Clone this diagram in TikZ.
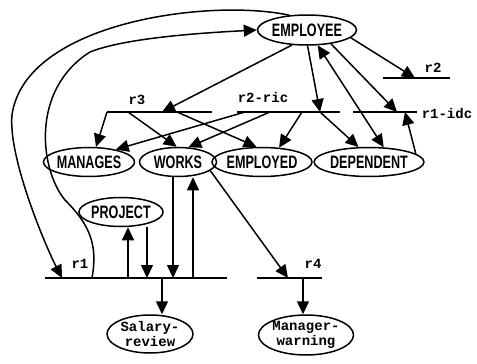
\documentclass[tikz,border=0pt]{standalone}
\usepackage{fontspec}
\usepackage{graphicx}
\setmainfont{Liberation Sans}
\newfontfamily\entfont{Liberation Sans}
\newfontfamily\monofont{Liberation Mono}
\newcommand{\enttext}[1]{\scalebox{0.7}[1]{#1}}
\usetikzlibrary{shapes.geometric,arrows.meta}
\begin{document}
\begin{tikzpicture}[x=1pt,y=-1pt,
  ent/.style={ellipse,draw,line width=1.5pt,inner sep=0pt,font=\entfont\bfseries\fontsize{18}{18}\selectfont},
  ent2/.style={ellipse,draw,line width=1.5pt,inner sep=0pt,align=center,font=\monofont\bfseries\fontsize{14}{15}\selectfont},
  lbl/.style={font=\monofont\bfseries\fontsize{14}{14}\selectfont,inner sep=0pt},
  bar/.style={line width=1.5pt},
  arr/.style={line width=1.5pt,-{Triangle[length=13pt,width=12pt]}},
  darr/.style={line width=1.5pt,{Triangle[length=13pt,width=12pt]}-{Triangle[length=13pt,width=12pt]}},
]
\useasboundingbox (0,0) rectangle (477,364);
% entities
\node[ent,minimum width=88pt,minimum height=30pt] (emp) at (307,30) {\enttext{EMPLOYEE}};
\node[ent,minimum width=78pt,minimum height=29pt] (man) at (89,162) {\enttext{MANAGES}};
\node[ent,minimum width=77pt,minimum height=29pt] (works) at (178,162) {\enttext{WORKS}};
\node[ent,minimum width=79pt,minimum height=29pt] (empd) at (262,162) {\enttext{EMPLOYED}};
\node[ent,minimum width=98pt,minimum height=29pt] (dep) at (369,162) {\enttext{DEPENDENT}};
\node[ent,minimum width=78pt,minimum height=29pt] (proj) at (121,212) {\enttext{PROJECT}};
\node[ent2,minimum width=86pt,minimum height=38pt] (sal) at (150,334) {Salary-\\review};
\node[ent2,minimum width=92pt,minimum height=40pt] (mw) at (306,335) {Manager-\\warning};
% labels
\node[lbl] (lr2) at (433,68) {r2};
\node[lbl] (lr3) at (137,100) {r3};
\node[lbl] (lric) at (263,97) {r2-ric};
\node[lbl] (lidc) at (447,113) {r1-idc};
\node[lbl] (lr1) at (80,264) {r1};
\node[lbl] (lr4) at (313,264) {r4};
% bar coordinates
\coordinate (r2a) at (383,78); \coordinate (r2b) at (450,78); \coordinate (r2p) at (415,78);
\coordinate (r3a) at (107,112); \coordinate (r3b) at (212,112);
\coordinate (r3p) at (162,112); \coordinate (r3w) at (128,112); \coordinate (r3e) at (177,112);
\coordinate (ra) at (237,112); \coordinate (rb) at (340,112);
\coordinate (rm) at (245,112); \coordinate (rw) at (270,112); \coordinate (re) at (302,112); \coordinate (rp) at (320,112);
\coordinate (ia) at (353,112); \coordinate (ib) at (417,112); \coordinate (ip) at (397,112); \coordinate (iq) at (405,112);
\coordinate (r1a) at (45,278); \coordinate (r1b) at (227,278);
\coordinate (r1o) at (62,278); \coordinate (r1i) at (92,278);
\coordinate (r1pu) at (128,278); \coordinate (r1pd) at (147,278); \coordinate (r1s) at (162,278);
\coordinate (r1wd) at (173,278); \coordinate (r1wu) at (193,278);
\coordinate (r4a) at (257,278); \coordinate (r4b) at (322,278);
\coordinate (r4p) at (288,278); \coordinate (r4m) at (303,278);
% bars
\draw[bar] (r2a) -- (r2b);
\draw[bar] (r3a) -- (r3b);
\draw[bar] (ra) -- (rb);
\draw[bar] (ia) -- (ib);
\draw[bar] (r1a) -- (r1b);
\draw[bar] (r4a) -- (r4b);
% connectors from EMPLOYEE
\draw[arr] (emp.-10) -- (r2p);
\draw[arr] (emp.-135) -- (r3p);
\draw[arr] (emp.-88) -- (rp);
\draw[darr] (emp.-55) -- (dep.45);
\draw[arr] (emp.-30) -- (ip);
\draw[arr] (dep.10) -- (iq);
% r3
\draw[arr] (r3a) -- (man.65);
\draw[arr] (r3w) -- (works.95);
\draw[arr] (r3e) -- (empd.110);
% r2-ric
\draw[arr] (rm) -- (man.25);
\draw[arr] (rw) -- (works.55);
\draw[arr] (re) -- (empd.40);
\draw[arr] (rp) -- (dep.125);
% r1
\draw[arr] (r1wd |- works.south) -- (r1wd);
\draw[arr] (r1wu) -- (r1wu |- works.south);
\draw[arr] (r1pu) -- (r1pu |- proj.south);
\draw[arr] (r1pd |- proj.south) -- (r1pd);
\draw[arr] (r1s) -- (r1s |- sal.north);
% r4
\draw[arr] (works.-15) -- (r4p);
\draw[arr] (r4m) -- (r4m |- mw.north);
% big curves
\draw[arr] (emp.140) .. controls (210,-2) and (25,22) .. (12,115) .. controls (8,157) and (45,245) .. (r1o);
\draw[arr] (r1i) .. controls (98,245) and (90,225) .. (65,200) .. controls (40,170) and (30,90) .. (90,52) .. controls (125,38) and (200,33) .. (emp.west);
\end{tikzpicture}
\end{document}
